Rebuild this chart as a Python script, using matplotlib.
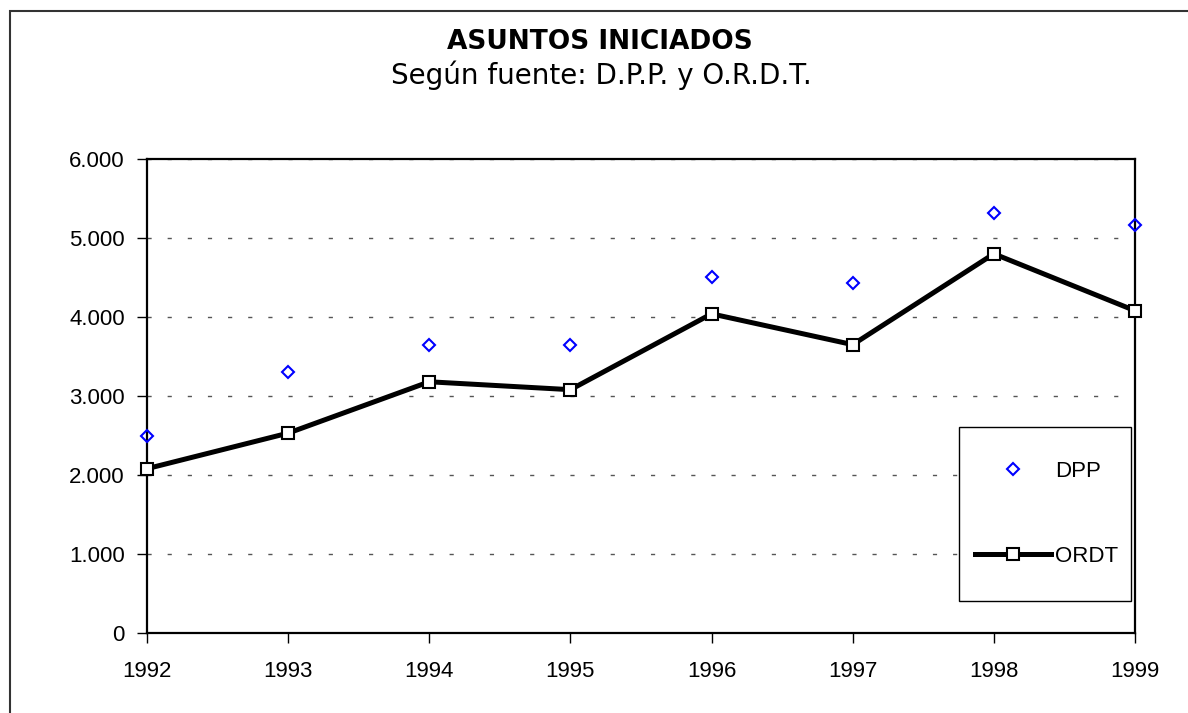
import matplotlib
matplotlib.use("Agg")
import matplotlib.pyplot as plt
from matplotlib.patches import Rectangle

# Data
years = [1992, 1993, 1994, 1995, 1996, 1997, 1998, 1999]
dpp = [2490, 3300, 3650, 3650, 4505, 4430, 5315, 5170]
ordt = [2080, 2530, 3180, 3080, 4040, 3650, 4800, 4080]
y_ticks = [0, 1000, 2000, 3000, 4000, 5000, 6000]

title = "ASUNTOS INICIADOS"
subtitle = "Según fuente: D.P.P. y O.R.D.T."

W, H = 1188, 713
fig = plt.figure(figsize=(W / 100, H / 100), dpi=100)

# outer chart frame (extends past the right and bottom edges)
frame = Rectangle((10 / W, -0.05), 1.1, 1 - 11 / H + 0.05, transform=fig.transFigure,
                  fill=False, edgecolor="#333333", linewidth=1.5)
fig.patches.append(frame)

ax = fig.add_axes([147 / W, 1 - 633 / H, (1135 - 147) / W, (633 - 159) / H])

# ORDT line with hollow squares
ax.plot(years, ordt, color="black", linewidth=3.6, marker="s", markersize=8,
        markerfacecolor="white", markeredgecolor="black", markeredgewidth=1.5,
        clip_on=False, zorder=3, label="ORDT")
# DPP markers only
ax.plot(years, dpp, linestyle="none", marker="D", markersize=6,
        markerfacecolor="none", markeredgecolor="#0000FF", markeredgewidth=1.5,
        clip_on=False, zorder=4, label="DPP")

ax.set_xlim(1992, 1999)
ax.set_ylim(0, 6000)
ax.set_xticks(years)
ax.set_xticklabels([str(y) for y in years])
ax.set_yticks(y_ticks)
ax.set_yticklabels([f"{v:,.0f}".replace(",", ".") for v in y_ticks])

ax.grid(axis="y", color="#555555", linewidth=1, dashes=(3, 11.5))
ax.set_axisbelow(True)

for s in ax.spines.values():
    s.set_linewidth(1.6)
    s.set_color("black")

ax.tick_params(axis="x", direction="out", length=7, width=1, pad=13,
               labelsize=16, colors="black")
ax.tick_params(axis="y", direction="out", length=7, width=1, pad=9,
               labelsize=16, colors="black")
for lab in ax.get_xticklabels() + ax.get_yticklabels():
    lab.set_fontfamily("Liberation Sans")

# legend box drawn by hand, entries placed inside without their own frame
box = Rectangle((959 / W, 1 - 601 / H), (1131 - 959) / W, (601 - 427) / H,
                transform=fig.transFigure, facecolor="white", edgecolor="black",
                linewidth=1, clip_on=False, zorder=5)
ax.add_patch(box)

handles, labels = ax.get_legend_handles_labels()
order = [1, 0]
leg = ax.legend([handles[i] for i in order], [labels[i] for i in order],
                loc="center left", bbox_to_anchor=(975 / W, 1 - 514 / H),
                bbox_transform=fig.transFigure, borderaxespad=0,
                prop={"family": "Liberation Sans", "size": 16},
                numpoints=1, handlelength=3.4, handletextpad=0.2,
                labelspacing=2.9, borderpad=0, frameon=False)
leg.set_zorder(6)

fig.text(600 / W, 1 - 42 / H, title, ha="center", va="center",
         fontsize=19, fontweight="bold", family=["DejaVu Sans"])
fig.text(601 / W, 1 - 75 / H, subtitle, ha="center", va="center",
         fontsize=20, family=["DejaVu Sans"])

fig.savefig("out.png", dpi=100)
